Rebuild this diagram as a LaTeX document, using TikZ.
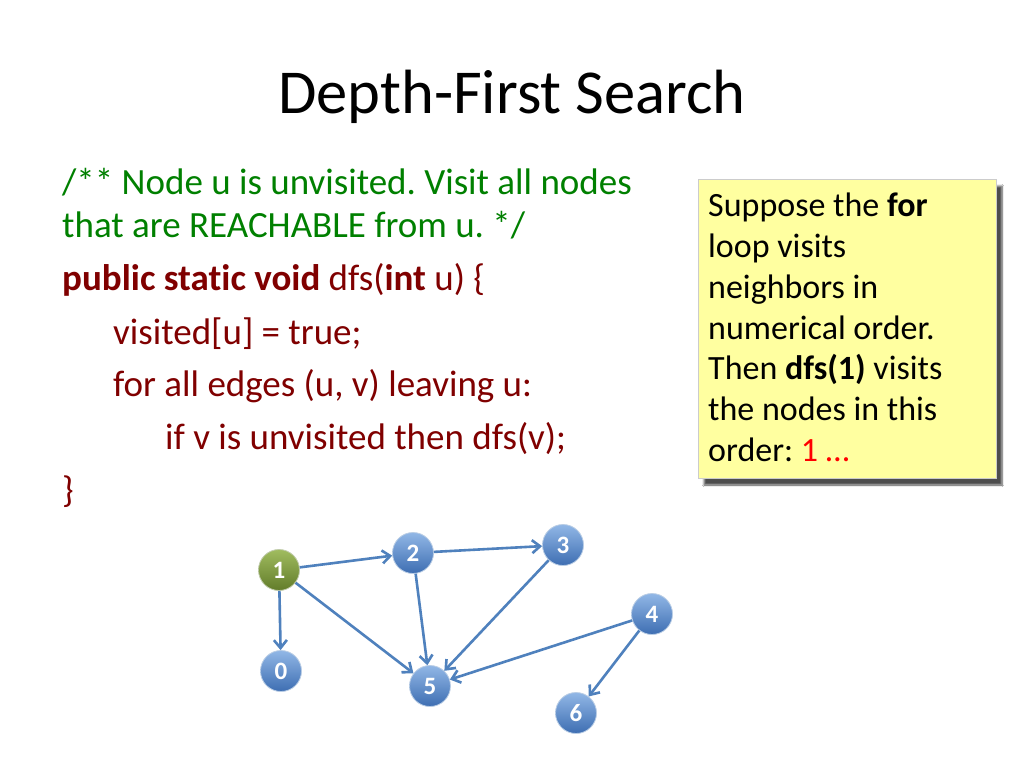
\documentclass[tikz,border=0pt]{standalone}
\usepackage{fontspec}
\setmainfont{Carlito}[Ligatures=NoCommon]
\usetikzlibrary{arrows.meta,shadows.blur}
\frenchspacing
\definecolor{commentgreen}{RGB}{0,128,0}
\definecolor{codered}{RGB}{128,0,0}
\definecolor{edgeblue}{RGB}{79,129,189}
\definecolor{balltop}{RGB}{145,183,230}
\definecolor{ballbottom}{RGB}{62,110,178}
\definecolor{starttop}{RGB}{160,188,95}
\definecolor{startbottom}{RGB}{98,124,42}
\definecolor{noteyellow}{RGB}{255,255,160}
\tikzset{
	vertex/.style={circle, minimum size=41pt, inner sep=0pt, draw=white!60!edgeblue, line width=0.8pt,
		top color=balltop, bottom color=ballbottom, text=white,
		font=\fontsize{25}{25}\selectfont\bfseries},
	start/.style={vertex, draw=white!60!startbottom, top color=starttop, bottom color=startbottom},
	edge/.style={draw=edgeblue, line width=2.6pt, -{Straight Barb[length=8pt,width=13pt]}},
	codeline/.style={anchor=base west, inner sep=0pt, text=codered, font=\fontsize{37}{44}\selectfont},
	noteline/.style={anchor=base west, inner sep=0pt, font=\fontsize{34}{40}\selectfont}
}
\begin{document}
\begin{tikzpicture}[x=1pt,y=-1pt]
		\useasboundingbox[fill=white] (0,0) rectangle (1024,768);
		\node[font=\fontsize{62.5}{70}\selectfont] (title) at (512,97) {Depth-First Search};
		% code
		\node[codeline, text=commentgreen] (c1) at (62,194) {/** Node u is unvisited. Visit all nodes};
		\node[codeline, text=commentgreen] (c2) at (62,237) {that are REACHABLE from u. */};
		\node[codeline] (c3) at (62,290) {\textbf{public static void} dfs(\textbf{int} u) \{};
		\node[codeline] (c4) at (113,344) {visited[u] = true;};
		\node[codeline] (c5) at (113,396) {for all edges (u, v) leaving u:};
		\node[codeline] (c6) at (165,449) {if v is unvisited then dfs(v);};
		\node[codeline] (c7) at (62,502) {\}};
		% note
		\fill[noteyellow, draw=black!20, blur shadow={shadow xshift=6pt, shadow yshift=-7pt, shadow blur steps=6, shadow opacity=70}]
			(698,179) rectangle (996,478);
		\node[noteline] (n1) at (708,216) {Suppose the \textbf{for}};
		\node[noteline] (n2) at (708,257) {loop visits};
		\node[noteline] (n3) at (708,298) {neighbors in};
		\node[noteline] (n4) at (708,339) {numerical order.};
		\node[noteline] (n5) at (708,379) {Then \textbf{dfs(1)} visits};
		\node[noteline] (n6) at (708,420) {the nodes in this};
		\node[noteline] (n7) at (708,461) {order: \textcolor{red}{1 …}};
		% graph
		\node[start] (v1) at (279,570) {1};
		\node[vertex] (v2) at (413,553) {2};
		\node[vertex] (v3) at (563,545) {3};
		\node[vertex] (v4) at (652,614) {4};
		\node[vertex] (v0) at (281,671) {0};
		\node[vertex] (v5) at (430,686) {5};
		\node[vertex] (v6) at (576,713) {6};
		\foreach \a/\b in {v1/v2, v2/v3, v1/v0, v1/v5, v2/v5, v3/v5, v4/v5, v4/v6}
			\draw[edge] (\a) -- (\b);
	\end{tikzpicture}
\end{document}
